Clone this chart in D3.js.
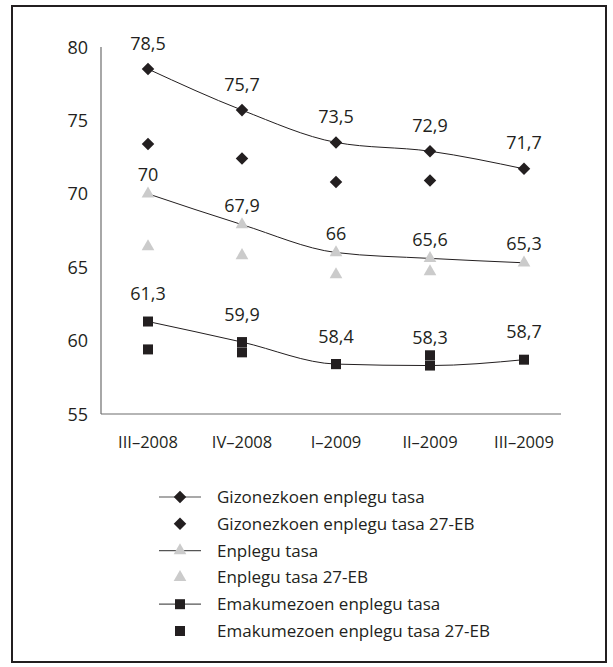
<!DOCTYPE html>
<html>
<head>
<meta charset="utf-8">
<script src="https://cdn.jsdelivr.net/npm/d3@7"></script>
<style>
  body { margin: 0; background: #fff; }
  svg { display: block; font-family: "Open Sans", sans-serif; }
</style>
</head>
<body>
<script>
// chart data
const periods = ["III–2008", "IV–2008", "I–2009", "II–2009", "III–2009"]
const gizonezkoen = [78.5, 75.7, 73.5, 72.9, 71.7]
const gizonezkoenEB = [73.4, 72.4, 70.8, 70.9, null]
const enplegu = [70, 67.9, 66, 65.6, 65.3]
const enpleguEB = [66.4, 65.8, 64.5, 64.7, null]
const emakumezoen = [61.3, 59.9, 58.4, 58.3, 58.7]
const emakumezoenEB = [59.4, 59.2, 58.4, 59.0, null]
const yTicks = [55, 60, 65, 70, 75, 80]
const legendLabels = [
    "Gizonezkoen enplegu tasa",
    "Gizonezkoen enplegu tasa 27-EB",
    "Enplegu tasa",
    "Enplegu tasa 27-EB",
    "Emakumezoen enplegu tasa",
    "Emakumezoen enplegu tasa 27-EB"
]

const width = 613
const height = 667
const dark = "#231f20"
const grey = "#cbcbcb"

const svg = d3.select("body").append("svg")
    .attr("width", width)
    .attr("height", height)

// frame
svg.append("rect")
    .attr("x", 12).attr("y", 6)
    .attr("width", 594).attr("height", 656)
    .attr("fill", "none")
    .attr("stroke", dark)
    .attr("stroke-width", 2)

const xScale = d3.scaleBand()
    .domain(periods)
    .range([101, 571])
const yScale = d3.scaleLinear()
    .domain([55, 80])
    .range([414, 47])
const cx = d => xScale(d) + xScale.bandwidth() / 2

// axes lines
svg.append("line")
    .attr("x1", 101).attr("x2", 101)
    .attr("y1", yScale(80)).attr("y2", yScale(55))
    .attr("stroke", "#6d6d6d").attr("stroke-width", 1.2)
svg.append("line")
    .attr("x1", 101).attr("x2", 561)
    .attr("y1", yScale(55)).attr("y2", yScale(55))
    .attr("stroke", "#6d6d6d").attr("stroke-width", 1.2)

svg.selectAll(".ytick")
    .data(yTicks)
    .enter()
    .append("text")
    .attr("class", "ytick")
    .attr("x", 88)
    .attr("y", d => yScale(d) + 6.5)
    .attr("text-anchor", "end")
    .attr("font-size", 18)
    .attr("fill", dark)
    .text(d => d)

svg.selectAll(".xtick")
    .data(periods)
    .enter()
    .append("text")
    .attr("class", "xtick")
    .attr("x", d => cx(d))
    .attr("y", 448)
    .attr("text-anchor", "middle")
    .attr("font-size", 16.5)
    .attr("fill", dark)
    .text(d => d)

// marker shapes
const shapes = {
    diamond: d3.symbol().type(d3.symbolDiamond2).size(100),
    triangle: d3.symbol().type(d3.symbolTriangle).size(70),
    square: d3.symbol().type(d3.symbolSquare).size(100)
}

const series = [
    { values: gizonezkoen, shape: "diamond", color: dark, line: true, labelOffset: 19.5 },
    { values: gizonezkoenEB, shape: "diamond", color: dark, line: false },
    { values: enplegu, shape: "triangle", color: grey, line: true, labelOffset: 12.5 },
    { values: enpleguEB, shape: "triangle", color: grey, line: false },
    { values: emakumezoen, shape: "square", color: dark, line: true, labelOffset: 21.5 },
    { values: emakumezoenEB, shape: "square", color: dark, line: false }
]

const line = d3.line()
    .defined(d => d.v != null)
    .x(d => cx(d.p))
    .y(d => yScale(d.v))
    .curve(d3.curveMonotoneX)

// draw EU points first, then main series on top
const order = [1, 3, 5, 0, 2, 4]
order.forEach(i => {
    const s = series[i]
    const pts = periods.map((p, j) => ({ p: p, v: s.values[j] })).filter(d => d.v != null)
    if (s.line) {
        svg.append("path")
            .datum(pts)
            .attr("d", line)
            .attr("fill", "none")
            .attr("stroke", dark)
            .attr("stroke-width", 1)
    }
    svg.selectAll(null)
        .data(pts)
        .enter()
        .append("path")
        .attr("d", shapes[s.shape])
        .attr("transform", d => `translate(${cx(d.p)},${yScale(d.v)})`)
        .attr("fill", s.color)
    if (s.line) {
        svg.selectAll(null)
            .data(pts)
            .enter()
            .append("text")
            .attr("x", d => cx(d.p))
            .attr("y", d => yScale(d.v) - s.labelOffset)
            .attr("text-anchor", "middle")
            .attr("font-size", 18)
            .attr("fill", dark)
            .text(d => String(d.v).replace(".", ","))
    }
})

// legend
const legend = svg.append("g")
legendLabels.forEach((label, i) => {
    const s = series[i]
    const y = 497 + i * 26.8
    if (s.line) {
        legend.append("line")
            .attr("x1", 159).attr("x2", 201)
            .attr("y1", y).attr("y2", y)
            .attr("stroke", "#555").attr("stroke-width", 1.2)
    }
    legend.append("path")
        .attr("d", shapes[s.shape])
        .attr("transform", `translate(180,${y})`)
        .attr("fill", s.color)
    legend.append("text")
        .attr("x", 217)
        .attr("y", y + 6)
        .attr("font-size", 17)
        .attr("fill", dark)
        .text(label)
})
</script>
</body>
</html>
